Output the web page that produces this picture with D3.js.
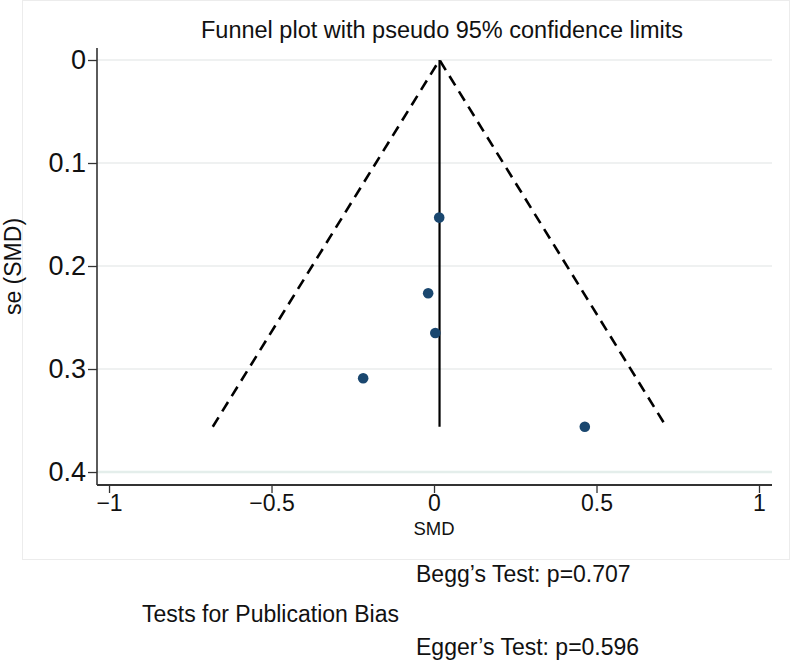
<!DOCTYPE html>
<html>
<head>
<meta charset="utf-8">
<script src="https://cdn.jsdelivr.net/npm/d3@7"></script>
<style>
  html, body { margin: 0; padding: 0; background: #fff; }
  svg { display: block; font-family: "Liberation Sans", Arial, Helvetica, sans-serif; }
</style>
</head>
<body>
<svg id="chart" width="792" height="664"></svg>
<script>
// ---- data ----
const studySMD = [0.016, -0.018, 0.004, -0.218, 0.464];
const studySE  = [0.153, 0.2265, 0.265, 0.309, 0.356];
const pooledSMD = 0.017;
const xTicks = [-1, -0.5, 0, 0.5, 1];
const yTicks = [0, 0.1, 0.2, 0.3, 0.4];
const titleText = "Funnel plot with pseudo 95% confidence limits";
const xTitle = "SMD";
const yTitle = "se (SMD)";
const noteLines = ["Begg\u2019s Test: p=0.707", "Tests for Publication Bias", "Egger\u2019s Test: p=0.596"];

// ---- layout ----
const svg = d3.select("#chart");
const plot = { left: 97, right: 772, top: 48, bottom: 485 };

const x = d3.scaleLinear().domain([-1.037, 1.04]).range([plot.left, plot.right]);
const y = d3.scaleLinear().domain([-0.01165, 0.4126]).range([plot.top, plot.bottom]);

// faint outer frame (graph region)
svg.append("rect")
  .attr("x", 22.5).attr("y", 0.5).attr("width", 767).attr("height", 559)
  .attr("fill", "none").attr("stroke", "#ececec").attr("stroke-width", 1);

// gridlines
svg.append("g").selectAll("line").data(yTicks).join("line")
  .attr("x1", plot.left).attr("x2", plot.right)
  .attr("y1", d => y(d)).attr("y2", d => y(d))
  .attr("stroke", d => d === 0.4 ? "#e4eeeb" : "#eaeded")
  .attr("stroke-width", d => d === 0.4 ? 2.5 : 1.5);

// y axis
const yAxis = d3.axisLeft(y).tickValues(yTicks).tickSize(9).tickPadding(2)
  .tickFormat(d => d === 0 ? "0" : d3.format(".1f")(d));
const gy = svg.append("g").attr("transform", `translate(${plot.left},0)`).call(yAxis);
gy.select(".domain").remove();
gy.selectAll(".tick line").attr("stroke", "#333").attr("stroke-width", 1.3);
gy.selectAll(".tick text").attr("font-size", 27).attr("fill", "#111")
  .attr("font-family", "Liberation Sans, Arial, sans-serif");
svg.append("line")
  .attr("x1", plot.left).attr("x2", plot.left)
  .attr("y1", plot.top).attr("y2", plot.bottom)
  .attr("stroke", "#333").attr("stroke-width", 1.6);

// x axis
const xAxis = d3.axisBottom(x).tickValues(xTicks).tickSize(8).tickPadding(2)
  .tickFormat(d => d3.format("")(d).replace("-", "\u2212"));
const gx = svg.append("g").attr("transform", `translate(0,${plot.bottom})`).call(xAxis);
gx.select(".domain").remove();
gx.selectAll(".tick line").attr("stroke", "#333").attr("stroke-width", 1.3);
gx.selectAll(".tick text").attr("font-size", 23).attr("fill", "#111")
  .attr("font-family", "Liberation Sans, Arial, sans-serif");
svg.append("line")
  .attr("x1", plot.left).attr("x2", plot.right)
  .attr("y1", plot.bottom).attr("y2", plot.bottom)
  .attr("stroke", "#333").attr("stroke-width", 2);

// axis titles
svg.append("text")
  .attr("x", x(0)).attr("y", 535)
  .attr("text-anchor", "middle").attr("font-size", 18.5).attr("fill", "#111")
  .text(xTitle);
svg.append("text")
  .attr("transform", `translate(21,${(plot.top + plot.bottom) / 2}) rotate(-90)`)
  .attr("text-anchor", "middle").attr("font-size", 23).attr("fill", "#111")
  .text(yTitle);

// title
svg.append("text")
  .attr("x", 442).attr("y", 38)
  .attr("text-anchor", "middle").attr("font-size", 23.5).attr("fill", "#111")
  .text(titleText);

// funnel (pseudo 95% limits)
const maxSE = d3.max(studySE);
const funnel = [
  [pooledSMD - 1.96 * maxSE, maxSE],
  [pooledSMD, 0],
  [pooledSMD + 1.96 * maxSE, maxSE]
];
svg.append("path")
  .attr("d", d3.line().x(d => x(d[0])).y(d => y(d[1]))(funnel))
  .attr("fill", "none").attr("stroke", "#000").attr("stroke-width", 2.6)
  .attr("stroke-dasharray", "11,7");

// pooled estimate line
svg.append("line")
  .attr("x1", x(pooledSMD)).attr("x2", x(pooledSMD))
  .attr("y1", y(0)).attr("y2", y(maxSE))
  .attr("stroke", "#000").attr("stroke-width", 2.2);

// study points
svg.append("g").selectAll("circle").data(studySMD.map((d, i) => [d, studySE[i]])).join("circle")
  .attr("cx", d => x(d[0])).attr("cy", d => y(d[1])).attr("r", 5.3)
  .attr("fill", "#1a476f");

// notes
const notePos = [[416, 582], [142, 622], [416, 655]];
svg.append("g").selectAll("text").data(noteLines).join("text")
  .attr("x", (d, i) => notePos[i][0]).attr("y", (d, i) => notePos[i][1])
  .attr("font-size", 23).attr("fill", "#111")
  .text(d => d);
</script>
</body>
</html>
